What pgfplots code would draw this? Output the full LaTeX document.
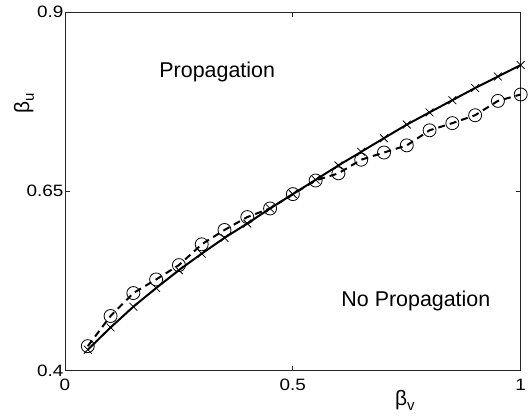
\documentclass[border=0pt]{standalone}
\usepackage{fontspec}
\setmainfont{Liberation Sans}
\newfontfamily\tickfont[FakeStretch=1.15]{Liberation Sans}
\usepackage{pgfplots}
\pgfplotsset{compat=1.18}
\usetikzlibrary{calc}

% numerical solution (crosses) and simulation (circles)
\pgfplotstableread{
bv    bu
0.05  0.429
0.10  0.460
0.15  0.489
0.20  0.515
0.25  0.540
0.30  0.563
0.35  0.585
0.40  0.605
0.45  0.626
0.50  0.646
0.55  0.666
0.60  0.686
0.65  0.705
0.70  0.724
0.75  0.743
0.80  0.760
0.85  0.777
0.90  0.794
0.95  0.810
1.00  0.826
}\crosses
\pgfplotstableread{
bv    bu
0.05  0.434
0.10  0.476
0.15  0.508
0.20  0.527
0.25  0.547
0.30  0.576
0.35  0.596
0.40  0.614
0.45  0.626
0.50  0.646
0.55  0.665
0.60  0.675
0.65  0.694
0.70  0.704
0.75  0.714
0.80  0.735
0.85  0.745
0.90  0.756
0.95  0.776
1.00  0.785
}\circles

\begin{document}
\begin{tikzpicture}
\begin{axis}[
    name=ax,
    scale only axis,
    width=455.7bp, height=358.5bp,
    xmin=0, xmax=1, ymin=0.4, ymax=0.9,
    xtick={0,0.5,1}, ytick={0.4,0.65,0.9},
    yticklabels={0.4,0.65,0.9},
    xticklabels={0,0.5,1},
    tick align=inside,
    major tick length=5bp,
    axis line style={black!85, line width=0.8bp},
    every tick/.style={black!85, line width=0.8bp},
    tick label style={font=\tickfont\fontsize{16.5}{18}\selectfont},
    xticklabel style={yshift=-5.5bp},
    yticklabel style={xshift=2bp},
    xlabel={β\raisebox{-0.45ex}{\fontsize{15}{16}\selectfont v}},
    ylabel={β\raisebox{-0.45ex}{\fontsize{15}{16}\selectfont u}},
    every axis x label/.style={at={(rel axis cs:0.746,0)}, yshift=-30bp, anchor=center,
        font=\fontsize{21}{24}\selectfont},
    every axis y label/.style={at={(rel axis cs:0,0.745)}, xshift=-41bp, rotate=90, anchor=center,
        font=\fontsize{21}{24}\selectfont},
    clip=false,
]
\addplot[black, line width=2bp, mark=x, mark size=5.5bp,
    mark options={solid, line width=0.8bp}] table[x=bv, y=bu] {\crosses};
\addplot[black, line width=2bp, dash pattern=on 7bp off 5bp, mark=o, mark size=6.5bp,
    mark options={solid, line width=0.8bp}] table[x=bv, y=bu] {\circles};
\node[anchor=base, font=\fontsize{21.5}{24}\selectfont] at (axis cs:0.334,0.809) {Propagation};
\node[anchor=base, font=\fontsize{21.5}{24}\selectfont] at (axis cs:0.770,0.489) {No Propagation};
\end{axis}
\pgfresetboundingbox
\path ($(ax.south west)+(-65bp,-49.5bp)$) rectangle ($(ax.north east)+(11.3bp,12bp)$);
\end{tikzpicture}
\end{document}
